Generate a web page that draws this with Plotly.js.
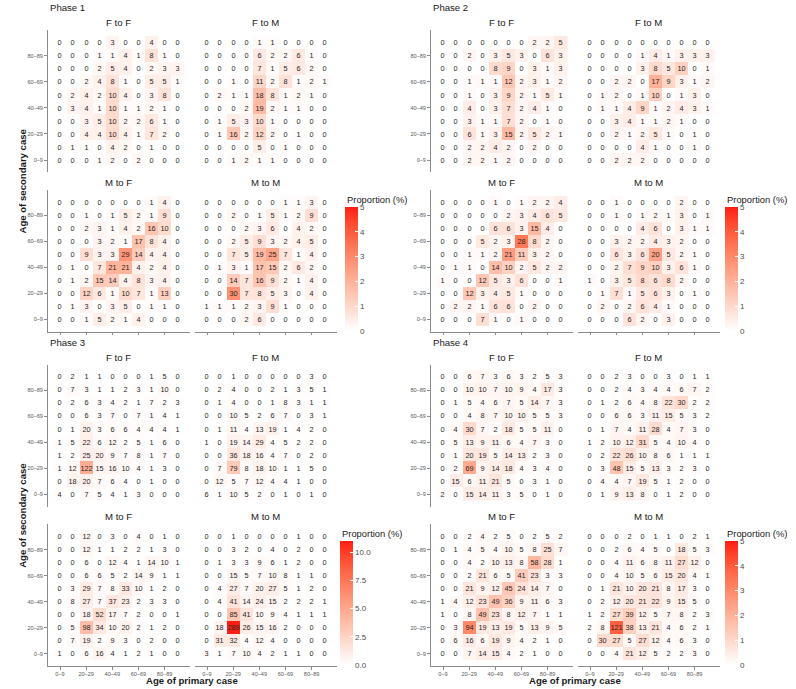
<!DOCTYPE html>
<html>
<head>
<meta charset="utf-8">
<script src="https://cdn.plot.ly/plotly-3.0.1.min.js"></script>
<style>html,body{margin:0;padding:0;background:#fff;}#chart{width:796px;height:689px;}</style>
</head>
<body>
<div id="chart"></div>
<script>
// ---------- DATA (rows listed from top = oldest secondary age group, to bottom = 0–9) ----------
const ages = ["0–9","10–19","20–29","30–39","40–49","50–59","60–69","70–79","80–89","90+"];
const tickAges = ["0–9","20–29","40–49","60–69","80–89"];
const panelTitles = ["F to F","F to M","M to F","M to M"];
const phaseNames = ["Phase 1","Phase 2","Phase 3","Phase 4"];

const p1FF = [
[0,0,0,0,3,0,0,4,0,0],[0,0,0,1,1,4,1,8,1,0],[0,0,0,2,5,4,0,2,3,3],[0,0,2,4,8,1,0,5,5,1],[0,2,4,2,10,4,0,3,8,0],
[0,3,4,1,10,1,1,2,1,0],[0,0,3,5,10,2,2,6,1,0],[0,0,4,4,10,4,1,7,2,0],[0,1,1,0,4,2,0,1,0,0],[0,0,0,1,2,0,2,0,0,0]];
const p1FM = [
[0,0,0,0,1,1,0,0,0,0],[0,0,0,0,6,2,2,6,1,0],[0,0,0,0,7,1,5,6,2,0],[0,0,1,0,11,2,8,1,2,1],[0,2,1,1,18,8,1,2,1,0],
[0,0,0,2,19,2,1,1,0,0],[0,1,5,3,10,1,0,0,0,0],[0,1,16,2,12,2,0,1,0,0],[0,0,0,0,5,0,1,0,0,0],[0,0,1,2,1,1,0,0,0,0]];
const p1MF = [
[0,0,0,0,0,0,0,1,4,0],[0,0,1,0,1,5,2,1,9,0],[0,0,2,3,1,4,2,16,10,0],[0,0,0,3,2,1,17,8,4,0],[0,0,9,3,3,29,14,4,4,0],
[0,1,0,7,21,21,4,2,4,0],[0,1,2,15,14,4,8,3,4,0],[0,0,12,6,1,10,7,1,13,0],[0,1,3,0,3,5,0,1,1,0],[0,0,1,5,2,1,4,0,0,0]];
const p1MM = [
[0,0,0,0,0,0,1,1,3,0],[0,0,2,0,1,5,1,2,9,0],[0,0,0,2,3,6,0,4,2,0],[0,0,2,5,9,3,2,4,5,0],[0,0,7,5,19,25,7,1,4,0],
[0,1,3,1,17,15,2,6,2,0],[0,0,14,7,16,9,2,1,4,0],[0,0,30,7,8,5,3,0,4,0],[1,1,1,2,3,9,1,0,0,0],[0,0,0,2,6,0,0,0,0,0]];

const p2FF = [
[0,0,0,0,0,0,0,2,2,5],[0,0,2,0,3,5,3,0,6,3],[0,0,0,0,8,9,0,3,1,3],[0,0,1,1,1,12,2,3,1,2],[0,0,1,0,3,9,2,1,5,1],
[0,0,4,0,3,7,2,4,1,0],[0,0,3,1,1,7,2,0,1,0],[0,0,6,1,3,15,2,5,2,1],[0,0,2,2,4,2,0,2,0,0],[0,0,2,2,1,2,0,0,0,0]];
const p2FM = [
[0,0,0,0,0,0,0,0,0,0],[0,0,0,0,1,4,1,3,3,3],[0,0,0,0,3,8,5,10,0,1],[0,0,2,2,0,17,9,3,1,2],[0,1,2,0,1,10,0,1,3,0],
[0,1,1,4,9,1,2,4,3,1],[0,0,3,4,1,1,2,1,0,0],[0,0,2,1,2,5,1,0,1,0],[0,0,0,0,4,1,0,0,1,0],[0,0,2,2,2,0,0,0,0,0]];
const p2MF = [
[0,0,0,0,1,0,1,2,2,4],[0,0,0,0,0,2,3,4,6,5],[0,0,0,0,6,6,3,15,4,0],[0,0,0,5,2,3,28,8,2,0],[0,0,1,1,2,21,11,3,2,0],
[0,1,1,0,14,10,2,5,2,2],[1,0,0,12,5,3,6,0,0,1],[0,0,12,3,4,5,1,0,0,0],[0,2,2,1,6,6,0,2,0,0],[0,0,0,7,1,0,1,0,0,0]];
const p2MM = [
[0,0,1,0,0,0,0,2,0,0],[0,0,1,0,1,2,1,3,0,1],[0,0,0,0,4,6,0,3,1,1],[0,0,3,2,2,4,3,2,0,0],[0,0,6,3,6,20,5,2,1,0],
[0,0,2,7,9,10,3,6,1,0],[1,0,3,5,8,6,8,2,0,0],[0,1,7,1,5,6,3,0,1,0],[0,2,0,2,6,4,1,0,0,0],[0,0,0,6,2,0,3,0,0,0]];

const p3FF = [
[0,2,1,1,0,0,0,1,5,0],[0,7,3,1,1,2,3,1,10,0],[0,2,6,3,4,2,1,7,2,3],[0,0,6,3,7,0,7,1,4,1],[0,1,20,3,6,6,4,4,4,1],
[1,5,22,6,12,2,5,1,6,0],[1,2,25,20,9,7,8,1,7,0],[1,12,122,15,16,10,4,1,3,0],[0,18,20,7,6,4,0,1,0,0],[4,0,7,5,4,1,3,0,0,0]];
const p3FM = [
[0,0,1,0,0,0,0,0,3,0],[0,2,4,0,0,2,1,3,5,1],[0,1,4,0,0,1,8,3,1,1],[0,0,10,5,2,6,7,0,3,1],[0,1,11,4,13,19,1,4,2,0],
[1,0,19,14,29,4,5,2,2,0],[0,0,36,18,16,4,7,0,2,0],[0,7,79,8,18,10,1,1,5,0],[0,12,5,7,12,4,4,1,0,0],[6,1,10,5,2,0,1,0,1,0]];
const p3MF = [
[0,0,12,0,3,0,4,0,1,0],[0,0,12,1,1,2,2,1,3,0],[0,0,6,0,12,4,1,14,10,1],[0,0,6,6,5,2,14,9,1,1],[0,3,29,7,8,33,10,1,2,0],
[0,8,27,7,37,23,2,3,3,0],[0,0,18,52,17,7,2,0,0,1],[0,5,98,34,10,20,2,1,2,0],[0,7,19,2,9,3,0,2,0,0],[1,0,6,16,4,1,2,1,0,0]];
const p3MM = [
[0,0,1,0,0,0,0,1,0,0],[0,0,3,2,0,4,0,2,0,0],[0,1,3,3,9,6,1,2,0,0],[0,0,15,5,7,10,8,1,1,0],[0,4,27,7,20,27,5,1,2,0],
[0,4,41,14,24,15,2,2,2,1],[0,0,85,41,10,9,4,1,1,1],[0,18,289,26,15,16,2,0,0,0],[0,31,32,4,12,4,0,0,0,0],[3,1,7,10,4,2,1,1,0,0]];

const p4FF = [
[0,0,6,7,3,6,3,2,5,3],[0,0,10,10,7,10,9,4,17,3],[0,1,5,4,6,7,5,14,7,3],[0,0,4,8,7,10,10,5,5,3],[0,4,30,7,2,18,5,5,11,0],
[0,5,13,9,11,6,4,7,3,0],[0,1,20,19,5,14,13,2,3,0],[0,2,69,9,14,18,4,3,4,0],[0,15,6,11,21,5,0,3,1,0],[2,0,15,14,11,3,5,0,1,0]];
const p4FM = [
[0,0,2,3,0,0,3,0,1,1],[0,0,2,4,3,4,4,6,7,2],[0,1,2,6,4,8,22,30,2,2],[0,0,6,6,3,11,15,5,3,2],[0,1,7,4,11,28,4,7,3,0],
[1,2,10,12,31,5,4,10,4,0],[0,2,22,26,10,8,6,1,1,1],[0,3,48,15,5,13,3,2,3,0],[0,4,4,7,19,5,1,2,0,0],[0,1,9,13,8,0,1,2,0,0]];
const p4MF = [
[0,0,2,4,2,5,0,2,5,2],[0,1,4,5,4,10,5,8,25,7],[0,0,4,2,10,13,8,58,28,1],[0,0,2,21,6,5,41,23,3,3],[0,0,21,9,12,45,24,14,7,0],
[1,4,12,23,49,36,9,11,6,3],[1,0,8,49,23,8,12,7,1,1],[0,3,94,19,13,19,5,13,9,5],[0,6,16,6,19,9,4,2,1,0],[0,0,7,14,15,4,2,1,0,0]];
const p4MM = [
[0,0,0,2,0,1,1,0,2,1],[0,0,2,6,4,5,0,18,5,3],[0,0,4,11,6,8,11,27,12,0],[0,0,4,10,5,6,15,20,4,1],[0,1,21,10,20,21,8,17,3,0],
[0,2,12,20,21,22,9,15,5,0],[1,2,27,39,12,5,7,8,2,3],[2,8,121,38,13,21,4,6,2,1],[0,30,27,5,27,12,4,6,3,0],[0,0,4,21,12,5,2,2,3,0]];

const phaseData = [[p1FF,p1FM,p1MF,p1MM],[p2FF,p2FM,p2MF,p2MM],[p3FF,p3FM,p3MF,p3MM],[p4FF,p4FM,p4MF,p4MM]];

// ---------- STYLE / LAYOUT ----------
const W = 796, H = 689;
const FONT = "Liberation Sans, Arial, Helvetica, sans-serif";
const px = v => v / W;
const py = v => 1 - v / H;
const panelX = [[47.6,190.1],[194.6,337.1]];
const panelY = [[30.3,172.4],[190.0,331.8]];
const phaseDX = [0,383,0,383];
const phaseDY = [0,0,334.3,334.3];
const barX = [345,725,340,725];
const barTop = [207,207,541,541];
const axisGray = "#8a8a8a";
const colorscale = [
  [0,'rgb(255,255,255)'],[0.125,'rgb(255,231,223)'],[0.25,'rgb(255,207,190)'],[0.375,'rgb(255,183,160)'],
  [0.5,'rgb(255,158,130)'],[0.625,'rgb(255,132,100)'],[0.75,'rgb(255,103,72)'],[0.875,'rgb(255,72,45)'],[1,'rgb(254,30,20)']
];

const traces = [];
const layout = {
  width: W, height: H, margin: {l:0,r:0,t:0,b:0},
  paper_bgcolor: '#fff', plot_bgcolor: 'rgba(0,0,0,0)',
  font: {family: FONT, color: '#1a1a1a'},
  showlegend: false, annotations: [], shapes: []
};

phaseData.forEach((mats, p) => {
  const total = mats.reduce((s, m) => s + m.reduce((a, r) => a + r.reduce((b, v) => b + v, 0), 0), 0);
  let maxProp = 0;
  mats.forEach(m => m.forEach(r => r.forEach(v => { maxProp = Math.max(maxProp, v / total * 100); })));
  const cmax = (p === 2) ? maxProp : 5;
  const caName = 'coloraxis' + (p === 0 ? '' : (p + 1));
  const tv = (p === 2) ? [0,2.5,5,7.5,10] : [0,1,2,3,4,5];
  const tt = (p === 2) ? ['0.0','2.5','5.0','7.5','10.0'] : ['0','1','2','3','4','5'];
  layout[caName] = {
    colorscale: colorscale, cmin: 0, cmax: cmax,
    colorbar: {
      thickness: 12.5, thicknessmode: 'pixels', len: 124, lenmode: 'pixels',
      x: px(barX[p]), xanchor: 'left', xpad: 0,
      y: py(barTop[p]), yanchor: 'top', ypad: 0,
      outlinewidth: 0, tickmode: 'array', tickvals: tv, ticktext: tt,
      ticks: 'inside', ticklen: 2.5, tickcolor: '#ffffff', tickwidth: 1,
      tickfont: {family: FONT, size: 8, color: '#4d4d4d'}
    }
  };
  layout.annotations.push({
    text: 'Proportion (%)', xref: 'paper', yref: 'paper', x: px(barX[p]), y: py(barTop[p] - 7.5),
    xanchor: 'left', yanchor: 'middle', showarrow: false, font: {family: FONT, size: 9.4, color: '#1a1a1a'}
  });
  layout.annotations.push({
    text: phaseNames[p], xref: 'paper', yref: 'paper',
    x: px(panelX[0][0] + phaseDX[p]), y: py(8 + phaseDY[p]),
    xanchor: 'left', yanchor: 'middle', showarrow: false, font: {family: FONT, size: 9.6, color: '#1a1a1a'}
  });
  if (p === 0 || p === 2) {
    layout.annotations.push({
      text: '<b>Age of secondary case</b>', xref: 'paper', yref: 'paper', textangle: -90,
      x: px(22.5), y: py((panelY[0][0] + panelY[1][1]) / 2 + phaseDY[p]),
      xanchor: 'center', yanchor: 'middle', showarrow: false, font: {family: FONT, size: 9.6, color: '#1a1a1a'}
    });
  }
  if (p >= 2) {
    layout.annotations.push({
      text: '<b>Age of primary case</b>', xref: 'paper', yref: 'paper',
      x: px((panelX[0][0] + panelX[1][1]) / 2 + phaseDX[p]), y: py(680.5),
      xanchor: 'center', yanchor: 'middle', showarrow: false, font: {family: FONT, size: 9.6, color: '#1a1a1a'}
    });
  }

  mats.forEach((m, k) => {
    const n = p * 4 + k;
    const xid = n === 0 ? 'x' : 'x' + (n + 1);
    const yid = n === 0 ? 'y' : 'y' + (n + 1);
    const col = k % 2, row = Math.floor(k / 2);
    const x0 = panelX[col][0] + phaseDX[p], x1 = panelX[col][1] + phaseDX[p];
    const y0 = panelY[row][0] + phaseDY[p], y1 = panelY[row][1] + phaseDY[p];
    const rowsUp = m.slice().reverse();
    traces.push({
      type: 'heatmap', x: ages, y: ages,
      z: rowsUp.map(r => r.map(v => v / total * 100)),
      text: rowsUp, texttemplate: '%{text}',
      textfont: {family: FONT, size: 7.3, color: '#262626'},
      coloraxis: caName, xaxis: xid, yaxis: yid, hoverinfo: 'skip', xgap: 0, ygap: 0
    });
    const isLeft = col === 0, isBottom = row === 1;
    layout['xaxis' + (n === 0 ? '' : n + 1)] = {
      domain: [px(x0), px(x1)], anchor: yid, type: 'category',
      categoryorder: 'array', categoryarray: ages, range: [-0.95, 9.95],
      showgrid: false, zeroline: false,
      showline: isBottom, linecolor: axisGray, linewidth: 1,
      ticks: isBottom ? 'outside' : '', ticklen: 2.5, tickcolor: axisGray, tickwidth: 1,
      tickmode: 'array', tickvals: tickAges, ticktext: tickAges,
      showticklabels: isBottom && p >= 2,
      tickfont: {family: FONT, size: 5.6, color: '#5a5a5a'}, fixedrange: true
    };
    layout['yaxis' + (n === 0 ? '' : n + 1)] = {
      domain: [py(y1), py(y0)], anchor: xid, type: 'category',
      categoryorder: 'array', categoryarray: ages, range: [-0.95, 9.95],
      showgrid: false, zeroline: false,
      showline: isLeft, linecolor: axisGray, linewidth: 1,
      ticks: isLeft ? 'outside' : '', ticklen: 2.5, tickcolor: axisGray, tickwidth: 1,
      tickmode: 'array', tickvals: tickAges, ticktext: tickAges,
      showticklabels: isLeft,
      tickfont: {family: FONT, size: 5.6, color: '#5a5a5a'}, fixedrange: true
    };
    layout.annotations.push({
      text: panelTitles[k], xref: 'paper', yref: 'paper',
      x: px((x0 + x1) / 2), y: py(y0 - 7.5),
      xanchor: 'center', yanchor: 'middle', showarrow: false, font: {family: FONT, size: 9.6, color: '#1a1a1a'}
    });
  });
});

// Phase 1 legend box overlaps the left edge of Phase 2's lower tick labels (as in the original)
layout.shapes.push({
  type: 'rect', xref: 'paper', yref: 'paper', layer: 'above',
  x0: px(398), x1: px(413.5), y0: py(336), y1: py(186),
  fillcolor: '#ffffff', line: {width: 0}
});

Plotly.newPlot('chart', traces, layout, {displayModeBar: false, staticPlot: true});
</script>
</body>
</html>
